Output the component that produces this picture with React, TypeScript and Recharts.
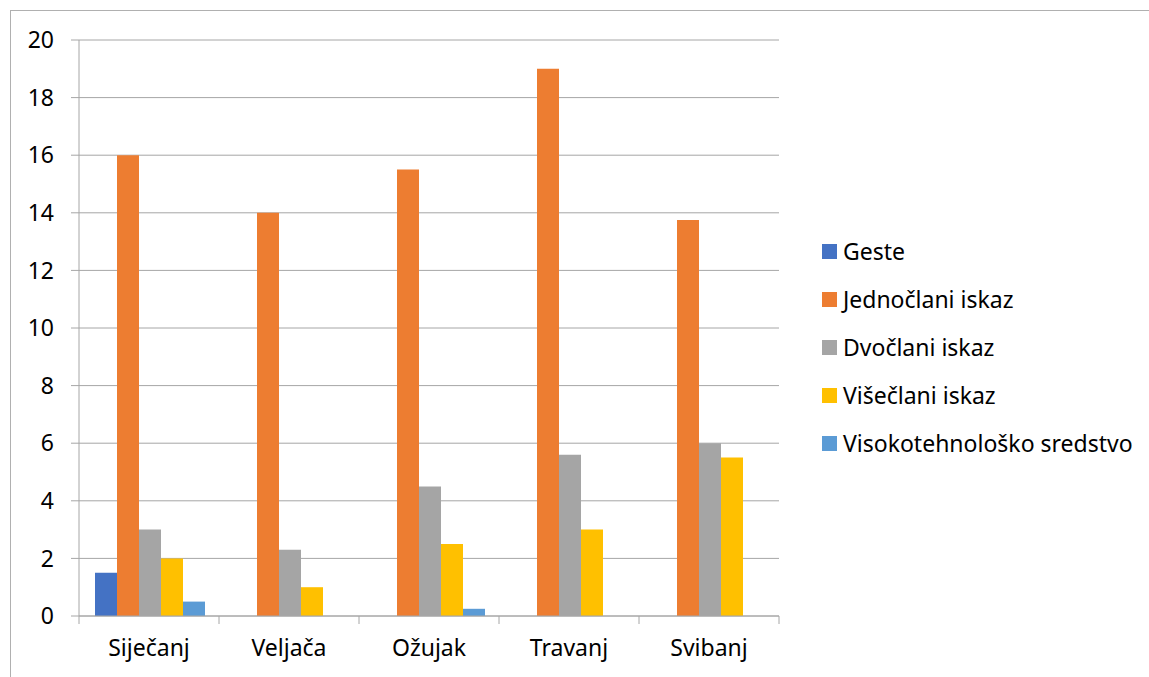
import React from "react";
import { BarChart, Bar, XAxis, YAxis, CartesianGrid, Legend } from "recharts";

const categories = ["Siječanj", "Veljača", "Ožujak", "Travanj", "Svibanj"];
const geste = [1.5, 0, 0, 0, 0];
const jednoclani = [16, 14, 15.5, 19, 13.75];
const dvoclani = [3, 2.3, 4.5, 5.6, 6];
const viseclani = [2, 1, 2.5, 3, 5.5];
const visokotehnolosko = [0.5, 0, 0.25, 0, 0];
const yTicks = [0, 2, 4, 6, 8, 10, 12, 14, 16, 18, 20];

const seriesDefs = [
  { key: "geste", name: "Geste", values: geste, color: "#4472C4" },
  { key: "jedn", name: "Jednočlani iskaz", values: jednoclani, color: "#ED7D31" },
  { key: "dvo", name: "Dvočlani iskaz", values: dvoclani, color: "#A5A5A5" },
  { key: "vise", name: "Višečlani iskaz", values: viseclani, color: "#FFC000" },
  { key: "viso", name: "Visokotehnološko sredstvo", values: visokotehnolosko, color: "#5B9BD5" },
];

const data = categories.map((c, i) => {
  const row: Record<string, any> = { name: c };
  seriesDefs.forEach((s) => (row[s.key] = s.values[i]));
  return row;
});

const FONT = "'Noto Sans', sans-serif";
const FS = 23;
const GRID = "#a6a6a6";
const TICK_SIZE = 8;
const X_TICK_MARGIN = 16;

const CategoryTick = (props: any) => {
  const { x, y, payload, index, visibleTicksCount } = props;
  const half = payload && typeof payload.offset === "number" && payload.offset > 0 ? payload.offset : 70;
  const lineTop = y - X_TICK_MARGIN - TICK_SIZE;
  const lineBottom = y - X_TICK_MARGIN;
  const isLast = index === visibleTicksCount - 1;
  return (
    <g>
      <line x1={x - half} x2={x - half} y1={lineTop} y2={lineBottom} stroke={GRID} strokeWidth={1} />
      {isLast && (
        <line x1={x + half} x2={x + half} y1={lineTop} y2={lineBottom} stroke={GRID} strokeWidth={1} />
      )}
      <text x={x} y={y} dy="0.71em" textAnchor="middle" fill="#000" fontFamily={FONT} fontSize={FS}>
        {payload.value}
      </text>
    </g>
  );
};

const LegendContent = () => (
  <div style={{ fontFamily: FONT, fontSize: FS, color: "#000" }}>
    {seriesDefs.map((s) => (
      <div key={s.key} style={{ display: "flex", alignItems: "center", height: 48, whiteSpace: "nowrap" }}>
        <span style={{ display: "inline-block", width: 15, height: 15, background: s.color, marginRight: 6 }} />
        <span>{s.name}</span>
      </div>
    ))}
  </div>
);

export default function App() {
  return (
    <div style={{ position: "absolute", left: 0, top: 0, width: 1149, height: 677, overflow: "hidden", background: "#fff" }}>
      <div
        style={{
          position: "absolute",
          left: 10,
          top: 10,
          width: 1139,
          height: 667,
          borderLeft: "1px solid #b0b0b0",
          borderTop: "1px solid #b0b0b0",
          boxSizing: "border-box",
        }}
      />
      <BarChart
        width={1149}
        height={677}
        data={data}
        margin={{ top: 40, right: 370, bottom: 0, left: 0 }}
        barCategoryGap={16}
        barGap={0}
      >
        <CartesianGrid vertical={false} stroke={GRID} strokeWidth={1} />
        <XAxis
          dataKey="name"
          height={61}
          tickLine={false}
          tickSize={TICK_SIZE}
          tickMargin={X_TICK_MARGIN}
          axisLine={{ stroke: GRID }}
          tick={<CategoryTick />}
          interval={0}
        />
        <YAxis
          width={79}
          domain={[0, 20]}
          ticks={yTicks}
          tickSize={TICK_SIZE}
          tickMargin={17}
          tickLine={{ stroke: GRID }}
          axisLine={{ stroke: GRID }}
          tick={{ fill: "#000", fontFamily: FONT, fontSize: FS }}
          interval={0}
        />
        <Legend
          layout="vertical"
          align="center"
          verticalAlign="middle"
          content={<LegendContent />}
          wrapperStyle={{ left: 822, top: 227, width: 327, height: 240 }}
        />
        {seriesDefs.map((s) => (
          <Bar key={s.key} dataKey={s.key} name={s.name} fill={s.color} isAnimationActive={false} />
        ))}
      </BarChart>
    </div>
  );
}
